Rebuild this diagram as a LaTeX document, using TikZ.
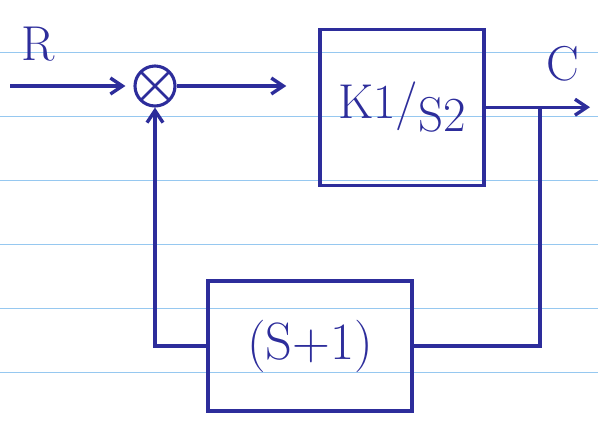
\documentclass[tikz,border=0pt]{standalone}
\usepackage{amssymb}
\usepackage{graphicx}
\usetikzlibrary{arrows.meta}
\usetikzlibrary{calc}

\definecolor{pen}{RGB}{45,45,155}
\definecolor{ruling}{RGB}{150,200,240}

\tikzset{
  blockbox/.style={draw=pen, line width=2.4pt, text=pen, inner sep=0pt},
  sumcircle/.style={draw=pen, line width=2.2pt, circle, minimum size=1cm,
    path picture={\draw[pen, line width=2pt] (path picture bounding box.north west) -- (path picture bounding box.south east)
      (path picture bounding box.north east) -- (path picture bounding box.south west);}},
  wire/.style={draw=pen, line width=2.4pt},
  barb/.style={wire, -{Straight Barb[length=3mm, width=4mm]}}
}

\begin{document}
\begin{tikzpicture}
          \useasboundingbox (0,0) rectangle (14.95,10.55);

          % paper rulings
          \draw [ruling, thin] (0,9.25) -- (14.95,9.25);
          \draw [ruling, thin] (0,7.65) -- (14.95,7.65);
          \draw [ruling, thin] (0,6.05) -- (14.95,6.05);
          \draw [ruling, thin] (0,4.45) -- (14.95,4.45);
          \draw [ruling, thin] (0,2.85) -- (14.95,2.85);
          \draw [ruling, thin] (0,1.25) -- (14.95,1.25);

          \node [sumcircle] (sum) at (3.875,8.4) {}; % summing point
          \node [blockbox, minimum width=4.1cm, minimum height=3.9cm] (plant) at (10.05,7.87)
                {\scalebox{1.4}{\Huge K1/\raisebox{-0.6ex}{S2}}}; % forward block
          \node [blockbox, minimum width=5.1cm, minimum height=3.25cm] (fb) at (7.75,1.9)
                {\scalebox{1.5}{\Huge (S+1)}}; % feedback block

          \coordinate (in) at (0.25,8.4);
          \coordinate (out) at (14.75,7.87);
          \coordinate (tap) at (13.5,7.87);
          \coordinate (corner) at (3.875,1.9);

          \node [text=pen] (rlabel) at (0.95,9.45) {\scalebox{1.4}{\Huge R}};
          \node [text=pen] (clabel) at (14.07,8.95) {\scalebox{1.4}{\Huge C}};

          \draw [barb, shorten >=2mm] (in) to (sum.west);
          \draw [barb, shorten >=0.8cm] (sum.east) to (sum.east -| plant.west);
          \draw [barb] (plant.east) to (out);

          \draw [wire] (tap) |- (fb.east);
          \draw [barb] (fb.west) -- (corner) -- (sum.south);
\end{tikzpicture}
\end{document}
